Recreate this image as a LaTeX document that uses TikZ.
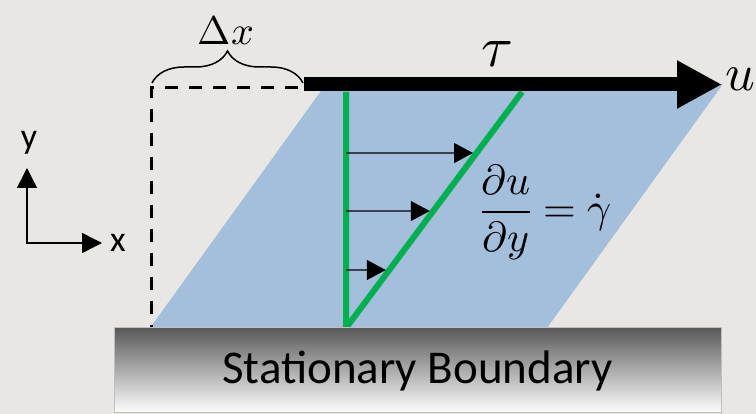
\documentclass[tikz,border=0pt]{standalone}
\usepackage{fontspec}
\usepackage{unicode-math}
\setmathfont{Latin Modern Math}
\setsansfont{Carlito}
\usetikzlibrary{arrows.meta,calc,decorations.pathreplacing}

\begin{document}
\begin{tikzpicture}[x=1pt,y=-1pt,inner sep=0pt]
  \definecolor{paper}{HTML}{E9E7E4}
  \definecolor{fluid}{HTML}{A3BFDC}
  \definecolor{profile}{HTML}{00B050}
  \definecolor{wallgray}{HTML}{5A5A5A}
  \tikzset{
    thin arrow/.style={line width=1.4pt,-{Triangle[length=19pt,width=20pt]}},
    guide/.style={line width=3pt,dash pattern=on 13pt off 11pt},
    big/.style={font=\fontsize{#1}{#1}\selectfont}
  }

  \useasboundingbox (0,0) rectangle (756,414);
  \fill[paper] (0,0) rectangle (756,414);

  % sheared fluid layer
  \fill[fluid] (150,328) -- (547,328) -- (723,84) -- (326,84) -- cycle;

  % velocity profile
  \coordinate (foot) at (346,328);
  \coordinate (head) at (346,92);
  \coordinate (edge) at (522,92);
  \draw[profile,line width=6pt] (head) -- (foot) -- (edge);
  \foreach \yy/\nm in {153/a,211/b,270/c}
  {
    \coordinate (v\nm) at (346,\yy);
    \coordinate (w\nm) at ($(foot)!{(328-\yy)/236}!(edge)$);
    \draw[thin arrow,shorten >=3.5pt] (v\nm) -- (w\nm);
  }

  % moving plate
  \coordinate (plate) at (304,84.5);
  \coordinate (tip) at (722,84.5);
  \draw[line width=14pt,-{Triangle[length=45pt,width=45pt]}] (plate) -- (tip);
  \node[big=52,anchor=west] (vel) at (725,79) {$u$};
  \node[big=58] (tau) at (497,54) {$\tau$};

  % displacement
  \coordinate (corner) at (151,88);
  \coordinate (gap) at (298,88);
  \coordinate (ground) at (151,328);
  \draw[guide] (gap) -- (corner) -- (ground);
  \draw[line width=1.5pt,decorate,decoration={brace,amplitude=32pt}]
    (152,83) -- (303,83);
  \node[big=40] (dx) at (226,30) {$\Delta x$};

  \node[big=42] (rate) at (546,212) {$\displaystyle\frac{\partial u}{\partial y}=\dot{\gamma}$};

  % wall
  \node[top color=wallgray,bottom color=white,draw=black!25,line width=1pt,
    minimum width=607pt,minimum height=85pt,
    font=\sffamily\fontsize{47}{50}\selectfont] (wall) at (417.5,370.5) {Stationary Boundary};

  % axes
  \coordinate (origin) at (27,243);
  \coordinate (yaxis) at (27,168);
  \coordinate (xaxis) at (102,243);
  \draw[line width=1.5pt,{Triangle[length=20pt,width=20pt]}-{Triangle[length=20pt,width=20pt]}]
    (yaxis) -- (origin) -- (xaxis);
  \node[font=\sffamily\fontsize{36}{38}\selectfont] (xlab) at (118,242.5) {x};
  \node[font=\sffamily\fontsize{36}{38}\selectfont] (ylab) at (29,143) {y};
\end{tikzpicture}
\end{document}
